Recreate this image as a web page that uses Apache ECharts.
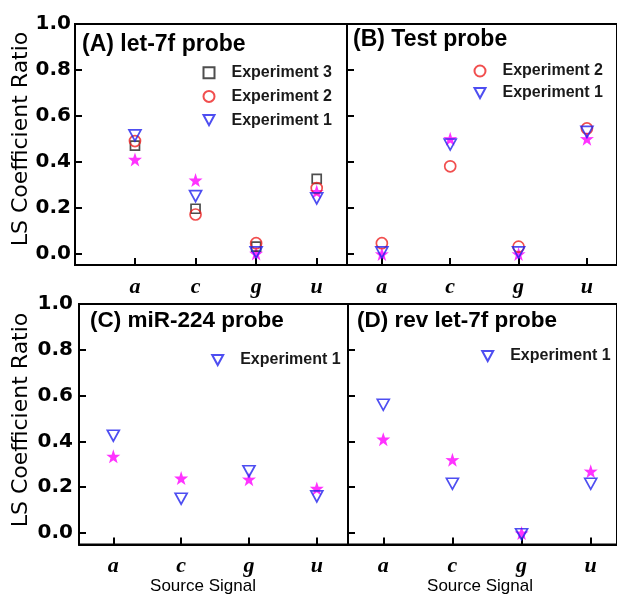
<!DOCTYPE html>
<html><head><meta charset="utf-8">
<script src="https://cdn.jsdelivr.net/npm/echarts@6/dist/echarts.min.js"></script>
<style>html,body{margin:0;padding:0;background:#fff}#c{width:617px;height:597px}</style>
</head><body><div id="c"></div>
<script>
// categories (source signals) and y tick values
const categories = ['a', 'c', 'g', 'u'];
const yTicks = [0, 0.2, 0.4, 0.6, 0.8, 1.0];
// Panel A: let-7f probe
const aExp3 = [0.47, 0.195, 0.03, 0.325];
const aExp2 = [0.49, 0.17, 0.045, 0.285];
const aExp1 = [0.515, 0.25, 0.005, 0.24];
const aStar = [0.41, 0.32, 0.0, 0.27];
// Panel B: Test probe
const bExp2 = [0.045, 0.38, 0.03, 0.545];
const bExp1 = [0.005, 0.475, 0.005, 0.53];
const bStar = [-0.002, 0.50, -0.002, 0.50];
// Panel C: miR-224 probe
const cExp1 = [0.425, 0.15, 0.27, 0.16];
const cStar = [0.335, 0.24, 0.235, 0.195];
// Panel D: rev let-7f probe
const dExp1 = [0.56, 0.215, -0.005, 0.215];
const dStar = [0.41, 0.32, 0.0, 0.27];

const STAR = 'path://M50,0 L61.8,35.1 L97.6,34.5 L69,56.9 L79.4,90.5 L50,70 L20.6,90.5 L31,56.9 L2.4,34.5 L38.2,35.1 Z';
const TRI_DOWN = 'path://M0,0 L12,0 L6,11 Z';
const RED = '#ee2222', BLUE = '#2222ee', MAG = '#ff00ff';

function pts(arr) { return arr.map((v, i) => [i + 1, v]); }

const grids = [
  { left: 75, top: 24, width: 272, height: 241, xmin: 0.01, xmax: 4.5, labels: true, lm: 4 },
  { left: 347, top: 24, width: 270, height: 241, xmin: 0.49, xmax: 4.44, labels: false },
  { left: 79, top: 304, width: 269, height: 240.5, xmin: 0.494, xmax: 4.46, labels: true, lm: 6 },
  { left: 348, top: 304, width: 269, height: 240.5, xmin: 0.49, xmax: 4.38, labels: false }
];

const numFont = { fontFamily: 'DejaVu Sans', fontWeight: 'bold', fontSize: 20, color: '#000' };
const e1 = { name: 'Experiment 1', icon: TRI_DOWN };

const option = {
  animation: false,
  backgroundColor: '#fff',
  grid: grids.map(g => ({ left: g.left, top: g.top, width: g.width, height: g.height, show: true,
    borderColor: '#000', borderWidth: 2, backgroundColor: 'transparent' })),
  xAxis: grids.map((g, i) => ({
    type: 'value', gridIndex: i, min: g.xmin, max: g.xmax,
    axisLine: { show: true, onZero: false, lineStyle: { color: '#000', width: 2 } },
    axisTick: { show: true, inside: true, length: 7, customValues: [1, 2, 3, 4], lineStyle: { color: '#000', width: 2 } },
    axisLabel: { show: true, customValues: [1, 2, 3, 4], margin: 11, formatter: v => categories[Math.round(v) - 1],
      fontFamily: 'Liberation Serif', fontStyle: 'italic', fontWeight: 'bold', fontSize: 22, color: '#000' },
    splitLine: { show: false }
  })),
  yAxis: grids.map((g, i) => ({
    type: 'value', gridIndex: i, min: -0.05, max: 1.0,
    axisLine: { show: true, onZero: false, lineStyle: { color: '#000', width: 2 } },
    axisTick: { show: true, inside: true, length: 7, customValues: yTicks, lineStyle: { color: '#000', width: 2 } },
    axisLabel: Object.assign({ show: g.labels, customValues: yTicks, margin: g.lm || 4, formatter: v => v.toFixed(1) }, numFont),
    splitLine: { show: false }
  })),
  legend: [
    { data: ['Experiment 3', 'Experiment 2', e1], left: 202.5, top: 64.7, itemGap: 7.7 },
    { data: ['Experiment 2', e1], left: 473.5, top: 63, itemGap: 6 },
    { data: [e1], left: 211.2, top: 352, itemGap: 6 },
    { data: [e1], left: 481.2, top: 348, itemGap: 6 }
  ].map(l => Object.assign({
    orient: 'vertical', padding: 0, itemWidth: 11, itemHeight: 11, selectedMode: false,
    textStyle: { fontFamily: 'Liberation Sans', fontWeight: 'bold', fontSize: 16, color: '#1a1a1a', lineHeight: 14, padding: [0, 0, 0, 12] }
  }, l)),
  graphic: [
    { type: 'text', left: 82, top: 33, style: { text: '(A) let-7f probe', font: 'bold 23px "Liberation Sans"', fill: '#000' } },
    { type: 'text', left: 353, top: 28, style: { text: '(B) Test probe', font: 'bold 23px "Liberation Sans"', fill: '#000' } },
    { type: 'text', left: 90, top: 309, style: { text: '(C) miR-224 probe', font: 'bold 22.5px "Liberation Sans"', fill: '#000' } },
    { type: 'text', left: 357, top: 309, style: { text: '(D) rev let-7f probe', font: 'bold 22.5px "Liberation Sans"', fill: '#000' } },
    { type: 'text', x: 21, y: 139, rotation: Math.PI / 2, style: { text: 'LS Coefficient Ratio', font: '22px "DejaVu Sans"', fill: '#000', align: 'center', verticalAlign: 'middle' } },
    { type: 'text', x: 21, y: 420, rotation: Math.PI / 2, style: { text: 'LS Coefficient Ratio', font: '22px "DejaVu Sans"', fill: '#000', align: 'center', verticalAlign: 'middle' } },
    { type: 'text', x: 203, y: 586, style: { text: 'Source Signal', font: '17px "Liberation Sans"', fill: '#000', align: 'center', verticalAlign: 'middle' } },
    { type: 'text', x: 480, y: 586, style: { text: 'Source Signal', font: '17px "Liberation Sans"', fill: '#000', align: 'center', verticalAlign: 'middle' } }
  ],
  series: []
};

function star(idx, arr) {
  return { type: 'scatter', name: 'Theory', xAxisIndex: idx, yAxisIndex: idx, data: pts(arr),
    symbol: STAR, symbolSize: 14, itemStyle: { color: MAG }, z: 3 };
}
function exp1(idx, arr) {
  return { type: 'scatter', name: 'Experiment 1', xAxisIndex: idx, yAxisIndex: idx, data: pts(arr),
    symbol: TRI_DOWN, symbolSize: [12, 11],
    itemStyle: { color: 'rgba(0,0,0,0)', borderColor: BLUE, borderWidth: 1.7 }, z: 4 };
}
function exp2(idx, arr) {
  return { type: 'scatter', name: 'Experiment 2', xAxisIndex: idx, yAxisIndex: idx, data: pts(arr),
    symbol: 'circle', symbolSize: 11,
    itemStyle: { color: 'rgba(0,0,0,0)', borderColor: RED, borderWidth: 1.7 }, z: 4 };
}
function exp3(idx, arr) {
  return { type: 'scatter', name: 'Experiment 3', xAxisIndex: idx, yAxisIndex: idx, data: pts(arr),
    symbol: 'rect', symbolSize: 9,
    itemStyle: { color: 'rgba(0,0,0,0)', borderColor: '#222', borderWidth: 1.7 }, z: 4 };
}

option.series.push(exp3(0, aExp3), exp2(0, aExp2), exp1(0, aExp1), star(0, aStar));
option.series.push(exp2(1, bExp2), exp1(1, bExp1), star(1, bStar));
option.series.push(exp1(2, cExp1), star(2, cStar));
option.series.push(exp1(3, dExp1), star(3, dStar));

const chart = echarts.init(document.getElementById('c'), null, { renderer: 'canvas' });
chart.setOption(option);
</script>
</body></html>
